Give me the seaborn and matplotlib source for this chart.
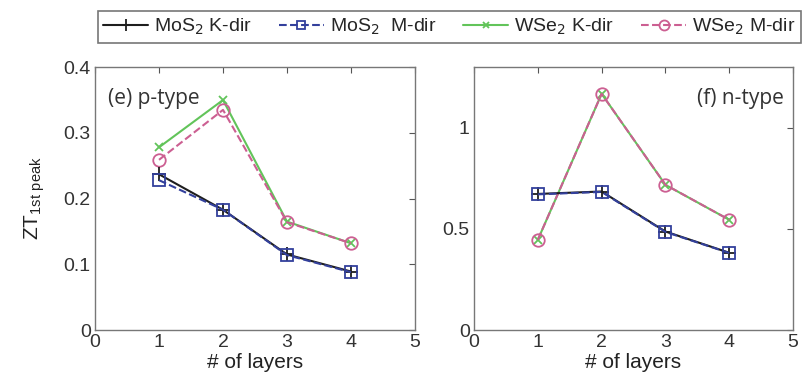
import numpy as np
import pandas as pd
import matplotlib
matplotlib.use("Agg")
import matplotlib.pyplot as plt
import seaborn as sns

layers = [1, 2, 3, 4]

# p-type ZT (first peak)
p_mos2_k = [0.237, 0.183, 0.115, 0.089]
p_mos2_m = [0.228, 0.183, 0.114, 0.088]
p_wse2_k = [0.278, 0.350, 0.165, 0.132]
p_wse2_m = [0.259, 0.335, 0.164, 0.132]

# n-type ZT (first peak)
n_mos2_k = [0.673, 0.685, 0.487, 0.382]
n_mos2_m = [0.671, 0.683, 0.485, 0.381]
n_wse2_k = [0.446, 1.168, 0.718, 0.545]
n_wse2_m = [0.446, 1.168, 0.718, 0.545]

labels = ["MoS$_2$ K-dir", "MoS$_2$  M-dir", "WSe$_2$ K-dir", "WSe$_2$ M-dir"]

sns.set_style("white")
plt.rcParams["font.family"] = ["Liberation Sans", "DejaVu Sans"]

styles = [
    dict(color="#1e1e1e", linestyle="-", marker="+", markersize=10),
    dict(color="#33409c", linestyle="--", marker="s", markersize=8),
    dict(color="#62c45a", linestyle="-", marker="x", markersize=6),
    dict(color="#cc5f92", linestyle="--", marker="o", markersize=9),
]

fig = plt.figure(figsize=(8.08, 3.9), dpi=100)
ax1 = fig.add_axes([0.1176, 0.1538, 0.396, 0.674])
ax2 = fig.add_axes([0.5866, 0.1538, 0.395, 0.674])

for ax, series in [(ax1, [p_mos2_k, p_mos2_m, p_wse2_k, p_wse2_m]),
                   (ax2, [n_mos2_k, n_mos2_m, n_wse2_k, n_wse2_m])]:
    # green and pink first, so black and blue sit on top
    for idx in [2, 3, 0, 1]:
        st = styles[idx]
        sns.lineplot(x=layers, y=series[idx], ax=ax, color=st["color"],
                     linestyle=st["linestyle"], marker=st["marker"],
                     markersize=st["markersize"], markerfacecolor="none",
                     markeredgecolor=st["color"], markeredgewidth=1.3,
                     linewidth=1.5, label=labels[idx], legend=False)
    ax.set_xlim(0, 5)
    ax.set_xticks([0, 1, 2, 3, 4, 5])
    ax.tick_params(direction="in", top=True, right=True, length=4, pad=3,
                   labelsize=14, colors="#555555", labelcolor="#333333")
    for sp in ax.spines.values():
        sp.set_color("#777777")
        sp.set_linewidth(1.0)
    ax.set_xlabel("# of layers", fontsize=15, color="#222222", labelpad=1)

ax1.set_ylim(0, 0.4)
ax1.set_yticks([0, 0.1, 0.2, 0.3, 0.4])
ax1.set_yticklabels(["0", "0.1", "0.2", "0.3", "0.4"])
ax1.set_ylabel("ZT$_{\\mathregular{1st\\ peak}}$", fontsize=15, color="#222222",
               labelpad=12)
ax1.text(0.04, 0.92, "(e) p-type", transform=ax1.transAxes, fontsize=15,
         color="#333333", va="top", ha="left", family="Open Sans")

ax2.set_ylim(0, 1.3)
ax2.set_yticks([0, 0.5, 1])
ax2.set_yticklabels(["0", "0.5", "1"])
ax2.text(0.97, 0.92, "(f) n-type", transform=ax2.transAxes, fontsize=15,
         color="#333333", va="top", ha="right", family="Open Sans")

handles = [plt.Line2D([], [], color=s["color"], linestyle=s["linestyle"],
                      marker=s["marker"], markersize=s["markersize"] * 0.8,
                      markerfacecolor="none", markeredgewidth=1.3, linewidth=1.5)
           for s in styles]
leg = fig.legend(handles, labels, loc="center", ncol=4,
                 bbox_to_anchor=(0.556, 0.931), fontsize=14, frameon=True,
                 fancybox=False, edgecolor="#555555", handlelength=2.3,
                 handletextpad=0.3, columnspacing=1.4, borderpad=0.3)
leg.get_frame().set_linewidth(1.2)

fig.savefig("out.png", dpi=100)
